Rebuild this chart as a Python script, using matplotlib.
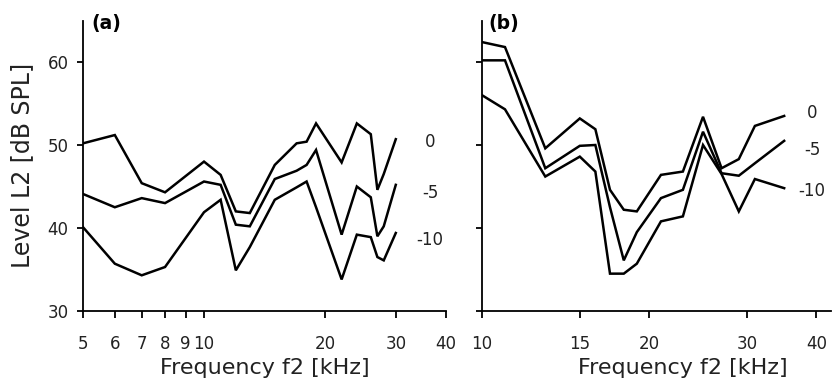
import matplotlib
matplotlib.use("Agg")
import matplotlib.pyplot as plt
from matplotlib.ticker import FixedLocator, FixedFormatter, NullLocator

# panel (a): f2 in kHz, L2 in dB SPL for three L1-L2 offsets
freq_a = [5, 6, 7, 8, 10, 11, 12, 13, 15, 17, 18, 19, 22, 24, 26, 27, 28, 30]
lvl_a_0 = [50.2, 51.2, 45.4, 44.3, 48.0, 46.4, 42.0, 41.8, 47.6, 50.2, 50.4, 52.6,
           47.9, 52.6, 51.3, 44.6, 46.5, 50.7]
lvl_a_m5 = [44.1, 42.5, 43.6, 43.0, 45.6, 45.2, 40.4, 40.2, 45.9, 46.9, 47.6, 49.4,
            39.2, 45.0, 43.7, 39.0, 40.2, 45.2]
lvl_a_m10 = [40.1, 35.7, 34.3, 35.3, 41.9, 43.4, 34.9, 37.7, 43.4, 44.9, 45.6, 42.5,
             33.8, 39.2, 38.9, 36.5, 36.1, 39.4]

# panel (b)
freq_b = [10, 11, 13, 15, 16, 17, 18, 19, 21, 23, 25, 27, 29, 31, 35]
lvl_b_0 = [62.4, 61.8, 49.6, 53.2, 51.9, 44.6, 42.2, 42.0, 46.4, 46.8, 53.4, 47.2,
           48.3, 52.3, 53.5]
lvl_b_m5 = [60.2, 60.2, 47.2, 49.9, 50.0, 42.5, 36.1, 39.5, 43.6, 44.6, 51.6, 46.6,
            46.3, 47.8, 50.5]
lvl_b_m10 = [56.0, 54.3, 46.2, 48.6, 46.8, 34.5, 34.5, 35.7, 40.8, 41.4, 50.0, 46.5,
             42.0, 45.9, 44.8]

curve_labels = ["0", "-5", "-10"]
xticks_a = [5, 6, 7, 8, 9, 10, 20, 30, 40]
xticks_b = [10, 15, 20, 30, 40]
yticks = [30, 40, 50, 60]

plt.rcParams["font.family"] = ["DejaVu Sans"]
TXT = "#222222"

fig = plt.figure(figsize=(8.32, 3.85), dpi=100)
ax_a = fig.add_axes([83 / 832, 74 / 385, 363 / 832, 290.5 / 385])
ax_b = fig.add_axes([482 / 832, 74 / 385, 349 / 832, 290.5 / 385])


def style(ax, xticks, xlim, ylabels):
    ax.set_xscale("log")
    ax.set_xlim(*xlim)
    ax.set_ylim(30, 65)
    ax.xaxis.set_major_locator(FixedLocator(xticks))
    ax.xaxis.set_major_formatter(FixedFormatter([str(t) for t in xticks]))
    ax.xaxis.set_minor_locator(NullLocator())
    ax.yaxis.set_major_locator(FixedLocator(yticks))
    if ylabels:
        ax.yaxis.set_major_formatter(FixedFormatter([str(t) for t in yticks]))
    else:
        ax.set_yticklabels([])
    for s in ["top", "right"]:
        ax.spines[s].set_visible(False)
    for s in ["left", "bottom"]:
        ax.spines[s].set_linewidth(1.3)
    ax.tick_params(axis="x", length=5, width=1.3, pad=12, labelsize=12, labelcolor=TXT)
    ax.tick_params(axis="y", length=4.5, width=1.3, pad=6, labelsize=12, labelcolor=TXT)
    ax.set_xlabel("Frequency f2 [kHz]", fontsize=16, color=TXT)


style(ax_a, xticks_a, (5, 40), True)
style(ax_b, xticks_b, (10, 42.5), False)

for series in (lvl_a_0, lvl_a_m5, lvl_a_m10):
    ax_a.plot(freq_a, series, color="black", lw=1.8, solid_joinstyle="miter")
for series in (lvl_b_0, lvl_b_m5, lvl_b_m10):
    ax_b.plot(freq_b, series, color="black", lw=1.8, solid_joinstyle="miter")

# curve labels (L1 - L2 offset)
for lab, y in zip(curve_labels, [50.4, 44.2, 38.6]):
    ax_a.text(36.5, y, lab, ha="center", va="center", fontsize=12, color=TXT)
for lab, y in zip(curve_labels, [53.8, 49.4, 44.4]):
    ax_b.text(39.3, y, lab, ha="center", va="center", fontsize=12, color=TXT)

ax_a.set_ylabel("Level L2 [dB SPL]", fontsize=17, color=TXT)
ax_a.yaxis.set_label_coords(-0.135, 0.5)
ax_a.xaxis.set_label_coords(0.5, -0.163)
ax_b.xaxis.set_label_coords(0.576, -0.163)

ax_a.text(0.022, 0.99, "(a)", transform=ax_a.transAxes, fontsize=13.5,
          fontweight="bold", va="center", ha="left")
ax_b.text(0.017, 0.99, "(b)", transform=ax_b.transAxes, fontsize=13.5,
          fontweight="bold", va="center", ha="left")

fig.savefig("out.png", dpi=100)
